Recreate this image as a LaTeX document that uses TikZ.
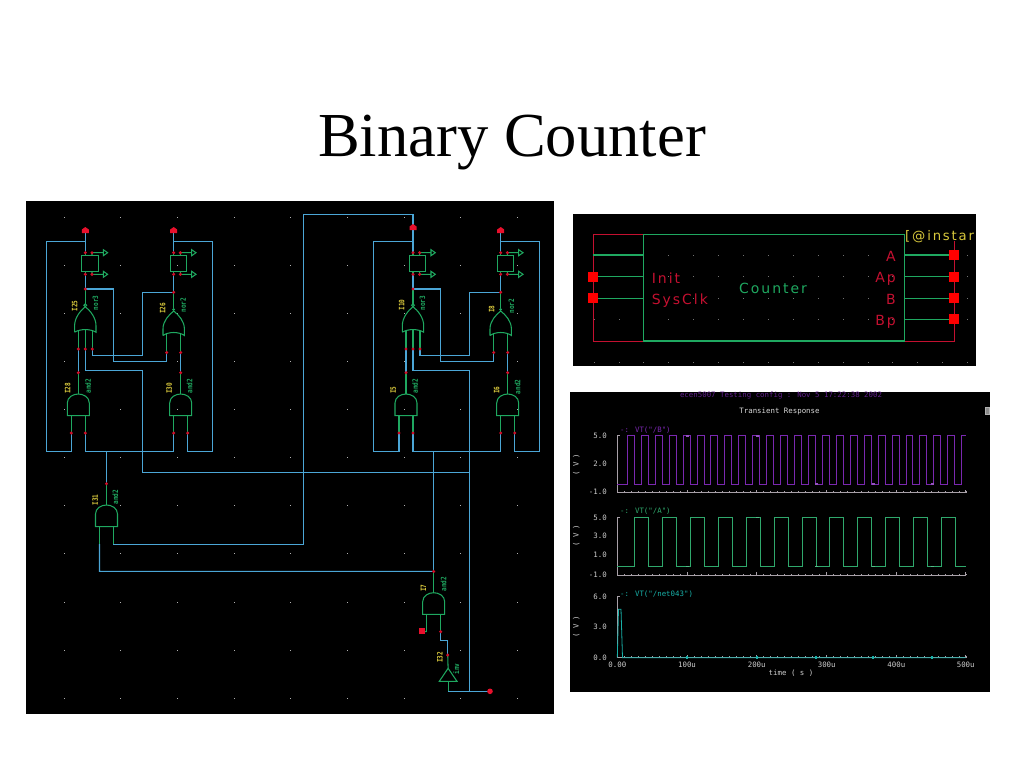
\documentclass[tikz,border=0pt]{standalone}
\usepackage{fontspec}
\setmainfont{Liberation Serif}
\newfontfamily\vecfont[LetterSpace=14]{DejaVu Sans}
\newfontfamily\cadfont{DejaVu Sans Mono}
\newfontfamily\schfont[FakeStretch=0.82]{DejaVu Sans Mono}
\definecolor{wireblue}{HTML}{4BA6D6}
\definecolor{gategreen}{HTML}{1FA860}
\definecolor{pinred}{HTML}{E8102C}
\definecolor{dimred}{HTML}{C41030}
\definecolor{labyellow}{HTML}{D8C83C}
\definecolor{plotpurple}{HTML}{7A28B0}
\definecolor{plotgreen}{HTML}{2FA86C}
\definecolor{plotcyan}{HTML}{18B0A8}
\definecolor{axisgrey}{HTML}{A8A0A8}
\tikzset{
  wire/.style={draw=wireblue,line width=1.1pt},
  gateline/.style={draw=gategreen,line width=1.05pt},
  pindot/.style={fill=pinred!90!black},
  griddot/.style={fill=white!70!black},
  refname/.style={text=labyellow,font=\schfont\fontsize{7.4}{8}\selectfont\bfseries,rotate=90,inner sep=0pt},
  cellname/.style={text=gategreen,font=\schfont\fontsize{7.4}{8}\selectfont\bfseries,rotate=90,inner sep=0pt},
  symtext/.style={font=\vecfont\fontsize{14}{16}\selectfont,inner sep=0pt},
  plottext/.style={font=\cadfont\fontsize{7.4}{9}\selectfont,inner sep=0pt},
  axisline/.style={draw=axisgrey,line width=0.5pt},
}
% name, output-x, top-y
\newcommand{\AndGate}[3]{%
  \begin{scope}[shift={(#2,#3)}]
    \draw[gateline] (-11,21.7) -- (-11,9) .. controls (-11,3) and (-5,0) .. (0,0)
      .. controls (5,0) and (11,3) .. (11,9) -- (11,21.7) -- cycle;
    \coordinate (#1-o) at (0,-21.3);
    \coordinate (#1-a) at (-7,39);
    \coordinate (#1-b) at (7,39);
    \coordinate (#1-t) at (0,0);
    \draw[gateline] (0,0) -- (#1-o);
    \draw[gateline] (-7,21.7) -- (#1-a);
    \draw[gateline] (7,21.7) -- (#1-b);
  \end{scope}}
\newcommand{\NorThree}[3]{%
  \begin{scope}[shift={(#2,#3)}]
    \draw[gateline] (-10.7,25.5) -- (-10.7,19) .. controls (-10.7,11) and (-5,4) .. (0,0)
      .. controls (5,4) and (10.7,11) .. (10.7,19) -- (10.7,25.5)
      .. controls (5,22) and (-5,22) .. (-10.7,25.5);
    \draw[gateline] (0,-1.5) circle (1.4);
    \coordinate (#1-o) at (0,-17.7);
    \coordinate (#1-a) at (-7,42.3);
    \coordinate (#1-b) at (0,42.3);
    \coordinate (#1-c) at (7,42.3);
    \draw[gateline] (0,-3) -- (#1-o);
    \draw[gateline] (-7,24) -- (#1-a);
    \draw[gateline] (0,23) -- (#1-b);
    \draw[gateline] (7,24) -- (#1-c);
  \end{scope}}
\newcommand{\NorTwo}[3]{%
  \begin{scope}[shift={(#2,#3)}]
    \draw[gateline] (-10.7,24.5) -- (-10.7,18) .. controls (-10.7,10) and (-5,4) .. (0,0)
      .. controls (5,4) and (10.7,10) .. (10.7,18) -- (10.7,24.5)
      .. controls (5,20.5) and (-5,20.5) .. (-10.7,24.5);
    \fill[gategreen] (0,-1.5) circle (1.5);
    \coordinate (#1-o) at (0,-18.7);
    \coordinate (#1-a) at (-7,41.5);
    \coordinate (#1-b) at (7,41.5);
    \draw[gateline] (0,-3) -- (#1-o);
    \draw[gateline] (-7,22) -- (#1-a);
    \draw[gateline] (7,22) -- (#1-b);
  \end{scope}}
\newcommand{\BufBox}[2]{%
  \begin{scope}[shift={(#2,252.7)}]
    \draw[gateline] (-3.5,3) rectangle (12.8,19);
    \coordinate (#1-t) at (0,0);
    \coordinate (#1-u) at (6.7,0);
    \coordinate (#1-d) at (0,21.6);
    \coordinate (#1-v) at (6.7,21.6);
    \draw[gateline] (0,0) -- (0,3);
    \draw[gateline] (0,19) -- (#1-d);
    \draw[gateline] (6.7,3) -- (#1-u) -- (18,0) (18,-3) -- (22.3,0) -- (18,3) -- cycle;
    \draw[gateline] (6.7,19) -- (#1-v) -- (18,21.6) (18,18.6) -- (22.3,21.6) -- (18,24.6) -- cycle;
  \end{scope}}
\newcommand{\TopPin}[3]{%
  \coordinate (#1) at (#2,#3);
  \fill[pinred] (#2-3.5,#3+3) -- (#2-3.5,#3-0.5) -- (#2,#3-3) -- (#2+3.5,#3-0.5) -- (#2+3.5,#3+3) -- cycle;}
\newcommand{\PlotAxes}[2]{%
  \draw[axisline] (617.3,#1) -- (617.3,#2) -- (965.7,#2);
  \foreach \k in {0,...,50}
    \draw[axisline,line width=0.35pt] ({617.3+6.968*\k},#2) -- ++(0,-1.5);
  \foreach \k in {0,...,5}
    \draw[axisline] ({617.3+69.68*\k},#2) -- ++(0,-3);
  \draw[axisline] (617.3,#1) -- ++(3,0);
}
\begin{document}
\begin{tikzpicture}[x=1pt,y=-1pt]
\useasboundingbox (0,0) rectangle (1024,768);
\fill[white] (0,0) rectangle (1024,768);
\node[anchor=base,inner sep=0pt,font=\fontsize{62.6}{70}\selectfont] (title) at (512,156) {Binary Counter};

% ---------- schematic ----------
\fill[black] (26,201) rectangle (554,714);
\foreach \gx in {0,...,8} \foreach \gy in {0,...,10}
  \fill[griddot] ({64+56.7*\gx-0.5},{217+48.13*\gy-0.5}) rectangle ++(1,1);

\BufBox{u1}{85.3}
\BufBox{u2}{173.7}
\BufBox{u3}{413}
\BufBox{u4}{500.7}
\NorThree{n25}{85.3}{306.7}
\NorTwo{n26}{173.7}{311}
\NorThree{n10}{413}{306.7}
\NorTwo{n8}{500.7}{311}
\AndGate{i28}{78.3}{394}
\AndGate{i30}{180.7}{394}
\AndGate{i5}{406}{394}
\AndGate{i6}{507.7}{394}
\AndGate{i31}{106.5}{505}
\AndGate{i7}{433.7}{592.7}

\coordinate (jclk) at (469.3,691.3);
\coordinate (outpin) at (490,691.3);
\coordinate (initpin) at (422.3,631);
\coordinate (invin) at (447.7,655);
\draw[gateline] (439.3,681.3) -- (457,681.3) -- (448.1,668.3) -- cycle;
\draw[gateline] (invin) -- (448.1,668.3);
\draw[gateline] (448.1,681.3) -- (448.1,691.3);
\draw[gateline] (i7-a) -- (initpin);

\coordinate (p1) at (85.3,230);
\coordinate (p2) at (173.7,230);
\coordinate (p3) at (413,227);
\coordinate (p4) at (500.7,230);

% wires, left pair
\draw[wire] (p1) -- (u1-t);
\draw[wire] (p2) -- (u2-t);
\draw[wire] (u1-d) -- (n25-o);
\draw[wire] (u2-d) -- (n26-o);
\draw[wire] (85.3,241.3) -- (46.7,241.3) -- (46.7,451.7) -- (71.3,451.7) -- (i28-a);
\draw[wire] (173.7,241.3) -- (212.7,241.3) -- (212.7,451.7) -- (187.7,451.7) -- (i30-b);
\draw[wire] (i28-b) -- (85.3,451.7) -- (173.7,451.7) -- (i30-a);
\draw[wire] (i28-o) -- (n25-a);
\draw[wire] (i30-o) -- (n26-b);
\draw[wire] (n25-o) -- (113.7,289) -- (113.7,361.7) -- (166.7,361.7) -- (n26-a);
\draw[wire] (n25-c) -- (92.3,355.3) -- (142.3,355.3) -- (142.3,292.3) -- (n26-o);
\draw[wire] (n25-b) -- (85.3,370.7) -- (142.3,370.7) -- (142.3,472.3) -- (469.3,472.3);
% wires, right pair
\draw[wire] (p3) -- (u3-t);
\draw[wire] (p4) -- (u4-t);
\draw[wire] (u3-d) -- (n10-o);
\draw[wire] (u4-d) -- (n8-o);
\draw[wire] (413,241.3) -- (373.3,241.3) -- (373.3,451.7) -- (399,451.7) -- (i5-a);
\draw[wire] (500.7,241.3) -- (539.3,241.3) -- (539.3,451.7) -- (514.7,451.7) -- (i6-b);
\draw[wire] (i5-b) -- (413,451.7) -- (500.7,451.7) -- (i6-a);
\draw[wire] (i5-o) -- (n10-a);
\draw[wire] (i6-o) -- (n8-b);
\draw[wire] (n10-o) -- (440.7,289) -- (440.7,361.7) -- (493.7,361.7) -- (n8-a);
\draw[wire] (n10-c) -- (420,355.3) -- (469.3,355.3) -- (469.3,292.3) -- (n8-o);
\draw[wire] (n10-b) -- (413,370.7) -- (469.3,370.7) -- (jclk);
% wires, shared
\draw[wire] (106.5,451.7) -- (i31-o);
\draw[wire] (433.7,451.7) -- (i7-o);
\draw[wire] (i31-b) -- (113.5,544.7) -- (303.7,544.7) -- (303.7,214.7) -- (413,214.7) -- (p3);
\draw[wire] (i31-a) -- (99.5,571.3) -- (i7-o);
\draw[wire] (i7-b) -- (440.7,640.3) -- (447.7,640.3) -- (invin);
\draw[wire] (448.1,691.3) -- (jclk) -- (outpin);

% pins
\TopPin{p1}{85.3}{230}
\TopPin{p2}{173.7}{230}
\TopPin{p3}{413}{227}
\TopPin{p4}{500.7}{230}
\foreach \c in {u1-t,u1-u,u1-d,u1-v,u2-t,u2-u,u2-d,u2-v,u3-t,u3-u,u3-d,u3-v,u4-t,u4-u,u4-d,u4-v,
  n25-o,n25-a,n25-b,n25-c,n26-o,n26-a,n26-b,n10-o,n10-a,n10-b,n10-c,n8-o,n8-a,n8-b,
  i28-o,i28-a,i28-b,i30-o,i30-a,i30-b,i5-o,i5-a,i5-b,i6-o,i6-a,i6-b,i31-o,i7-o,i7-b,invin}
  \fill[pindot] (\c) circle (1.7);
\fill[pinred] (initpin) ++(-3,-3) rectangle ++(5.5,6);
\fill[pinred] (outpin) circle (2.8);

% instance labels
\node[refname] (l25) at (74.7,306) {I25};
\node[cellname] (c25) at (95.5,302.7) {nor3};
\node[refname] (l26) at (162.7,308.3) {I26};
\node[cellname] (c26) at (183.3,305.3) {nor2};
\node[refname] (l28) at (67.7,388.3) {I28};
\node[cellname] (c28) at (88,386) {and2};
\node[refname] (l30) at (169.3,388.3) {I30};
\node[cellname] (c30) at (189.7,386) {and2};
\node[refname] (l10) at (401.7,305) {I10};
\node[cellname] (c10) at (422.3,303) {nor3};
\node[refname] (l8) at (491.7,309) {I8};
\node[cellname] (c8) at (511.3,306) {nor2};
\node[refname] (l5) at (393.3,390) {I5};
\node[cellname] (c5) at (415,386) {and2};
\node[refname] (l6) at (496.7,390) {I6};
\node[cellname] (c6) at (517.7,386.7) {and2};
\node[refname] (l31) at (95.3,500) {I31};
\node[cellname] (c31) at (115.3,497.3) {and2};
\node[refname] (l7) at (423.3,588.3) {I7};
\node[cellname] (c7) at (443.7,584.3) {and2};
\node[refname] (l32) at (440,657.3) {I32};
\node[cellname] (c32) at (456,669) {inv};

% ---------- symbol ----------
\fill[black] (573,214) rectangle (976,366);
\foreach \gx in {0,...,15} {
  \foreach \gy in {255,276.7,298.3,319.3}
    \fill[white!45!black] ({594+24.9*\gx-0.4},\gy-0.4) rectangle ++(0.8,0.8);
  \fill[white!45!black] ({594+24.9*\gx-0.4},362.3) rectangle ++(0.8,0.8);
}
\draw[draw=dimred,line width=1pt] (643.3,234.3) -- (593.3,234.3) -- (593.3,341) -- (954.3,341) -- (954.3,241);
\draw[gateline] (643.3,234.3) rectangle (904.3,341);
\coordinate (sl0) at (593.3,255);
\coordinate (sl1) at (593.3,276.7);
\coordinate (sl2) at (593.3,298.3);
\coordinate (sr0) at (954.3,255);
\coordinate (sr1) at (954.3,276.7);
\coordinate (sr2) at (954.3,298.3);
\coordinate (sr3) at (954.3,319.3);
\draw[gateline] (sl0) -- (643.3,255);
\draw[gateline] (sl1) -- (643.3,276.7);
\draw[gateline] (sl2) -- (643.3,298.3);
\draw[gateline] (904.3,255) -- (sr0);
\draw[gateline] (904.3,276.7) -- (sr1);
\draw[gateline] (904.3,298.3) -- (sr2);
\draw[gateline] (904.3,319.3) -- (sr3);
\foreach \c in {sl1,sl2,sr0,sr1,sr2,sr3}
  \fill[red] (\c) ++(-5,-5) rectangle ++(10,10);
\node[symtext,text=dimred,anchor=base west] (tinit) at (651.7,283.3) {Init};
\node[symtext,text=dimred,anchor=base west] (tclk) at (651.7,304.3) {SysClk};
\node[symtext,text=gategreen,anchor=base west] (tcnt) at (739,293.3) {Counter};
\node[symtext,text=dimred,anchor=base east] (ta) at (896,261.7) {A};
\node[symtext,text=dimred,anchor=base east] (tap) at (896,282.7) {Ap};
\node[symtext,text=dimred,anchor=base east] (tb) at (896,304) {B};
\node[symtext,text=dimred,anchor=base east] (tbp) at (896,325) {Bp};
\node[symtext,text=labyellow,anchor=base west,font=\vecfont\fontsize{13.2}{15}\selectfont] (tinst) at (905,240) {[@instar};

% ---------- waveforms ----------
\fill[black] (570,392) rectangle (990,692);
\node[plottext,text=plotpurple!80!black] (ptitle) at (781,395) {ecen5007 Testing config : Nov  5 17:22:38 2002};
\node[plottext,text=white!85!black] (ptrans) at (779.5,411) {Transient Response};
\draw[fill=white!55!black,draw=white!70!black,line width=0.3pt] (985.3,407) rectangle (989,414);

\PlotAxes{435.7}{492.5}
\PlotAxes{517.3}{575}
\PlotAxes{596.7}{657.7}

\draw[draw=plotpurple,line width=0.8pt] (617.3,484)
  \foreach \k in {0,...,23} {
    -- ({627.3+13.93*\k},484) -- ({627.3+13.93*\k},435.7)
    -- ({634.27+13.93*\k},435.7) -- ({634.27+13.93*\k},484)}
  -- (961.6,484) -- (961.6,435.7) -- (965.7,435.7);
\draw[draw=plotgreen,line width=0.8pt] (617.3,566.3)
  \foreach \k in {0,...,11} {
    -- ({634.7+27.87*\k},566.3) -- ({634.7+27.87*\k},517.3)
    -- ({648.7+27.87*\k},517.3) -- ({648.7+27.87*\k},566.3)}
  -- (965.7,566.3);
\draw[draw=plotcyan,line width=0.8pt] (617.3,657.7) -- (618.5,609.3) -- (621,609.3) -- (622.5,657.7) -- (965.7,657.7);
\foreach \mx/\my in {687/435.7,757/435.7,816/484,873/484,932/484}
  \fill[plotpurple!80!white] (\mx-1.5,\my-0.8) rectangle ++(3,1.6);
\foreach \mx/\my in {757/517.3,687/566.3,816/566.3,873/566.3,932/566.3}
  \fill[plotgreen!80!white] (\mx-1.5,\my-0.8) rectangle ++(3,1.6);
\foreach \mx in {687,757,816,873,932}
  \fill[plotcyan] (\mx-0.8,656) rectangle ++(1.6,3.4);

% axis numbers
\foreach \nm/\ty/\yy in {a/5.0/435.7,b/2.0/464,c/-1.0/492,d/5.0/517.3,e/3.0/535.7,f/1.0/555,g/-1.0/575,h/6.0/596.7,i/3.0/626.7,j/0.0/657.7}
  \node[plottext,text=white!80!black,anchor=east] (y\nm) at (607,\yy) {\ty};
\foreach \nm/\yy in {a/464.7,b/535.7,c/626.7}
  \node[plottext,text=white!80!black,rotate=90] (v\nm) at (576.3,\yy) {( V )};
\foreach \nm/\tx/\xx in {a/0.00/617.3,b/100u/687,c/200u/756.7,d/300u/826.7,e/400u/896.3,f/500u/965.7}
  \node[plottext,text=white!80!black] (x\nm) at (\xx,664.3) {\tx};
\node[plottext,text=white!80!black] (xlabel) at (791,673.3) {time ( s )};
\node[plottext,text=plotpurple,anchor=west] (sigb) at (620,429.7) {-: VT("/B")};
\node[plottext,text=plotgreen,anchor=west] (siga) at (620,511) {-: VT("/A")};
\node[plottext,text=plotcyan,anchor=west] (sign) at (620,593.7) {-: VT("/net043")};
\end{tikzpicture}
\end{document}
